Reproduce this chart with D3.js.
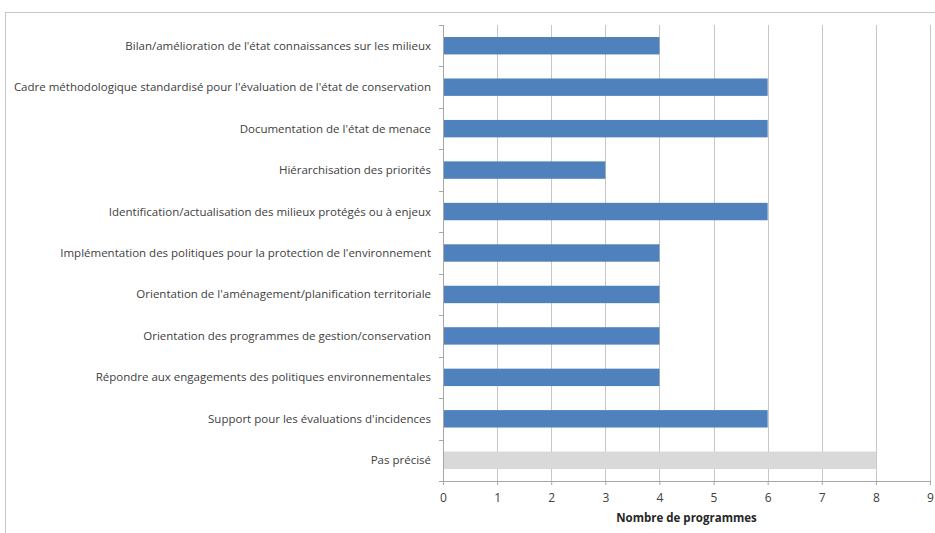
<!DOCTYPE html>
<html>
<head>
<meta charset="utf-8">
<script src="https://cdn.jsdelivr.net/npm/d3@7"></script>
<style>
  body { margin: 0; background: #fff; }
  text { font-family: "Open Sans", "Liberation Sans", sans-serif; }
</style>
</head>
<body>
<script>
(function (d3) {
  'use strict';

  const categories = [
    "Bilan/amélioration de l'état connaissances sur les milieux",
    "Cadre méthodologique standardisé pour l'évaluation de l'état de conservation",
    "Documentation de l'état de menace",
    "Hiérarchisation des priorités",
    "Identification/actualisation des milieux protégés ou à enjeux",
    "Implémentation des politiques pour la protection de l'environnement",
    "Orientation de l'aménagement/planification territoriale",
    "Orientation des programmes de gestion/conservation",
    "Répondre aux engagements des politiques environnementales",
    "Support pour les évaluations d'incidences",
    "Pas précisé"
  ];
  const values = [4, 6, 6, 3, 6, 4, 4, 4, 4, 6, 8];
  const xTicks = [0, 1, 2, 3, 4, 5, 6, 7, 8, 9];

  const W = 935, H = 533;
  const margin = {top: 25, right: 5, bottom: 52, left: 443};
  const w = W - margin.left - margin.right,
        h = H - margin.top - margin.bottom;

  const svg = d3.select("body").append("svg")
      .attr("width", W)
      .attr("height", H);

  // outer chart frame
  svg.append("rect")
    .attr("x", 5.5).attr("y", 12.5)
    .attr("width", 945).attr("height", 540)
    .attr("fill", "none").attr("stroke", "#c8c8c8");

  const g = svg.append("g")
    .attr("transform", `translate(${margin.left},${margin.top})`);

  const x = d3.scaleLinear().domain([0, 9]).range([0, 487]);
  const y = d3.scaleBand().domain(categories).range([0, h]).paddingInner(0.58).paddingOuter(0.29);

  // gridlines
  g.append("g").selectAll("line")
    .data(xTicks.slice(1))
    .join("line")
      .attr("x1", d => Math.round(x(d)) + 0.5)
      .attr("x2", d => Math.round(x(d)) + 0.5)
      .attr("y1", 0).attr("y2", h)
      .attr("stroke", "#c6c6c6");

  // bars
  g.append("g").selectAll("rect")
    .data(categories)
    .join("rect")
      .attr("x", x(0) + 1)
      .attr("y", d => y(d))
      .attr("width", (d, i) => x(values[i]) - 1)
      .attr("height", y.bandwidth())
      .attr("fill", (d, i) => i === categories.length - 1 ? "#d9d9d9" : "#4f81bd");

  // x axis
  const xAxis = g.append("g")
    .attr("transform", `translate(0,${h})`)
    .call(d3.axisBottom(x).tickValues(xTicks).tickFormat(d3.format("d")).tickSize(4).tickPadding(8));
  xAxis.select(".domain").attr("stroke", "#a6a6a6").attr("d", `M-4,0.5H${x(9)}`);
  xAxis.selectAll(".tick line").attr("stroke", "#a6a6a6");
  xAxis.selectAll(".tick text").attr("fill", "#404040").style("font-size", "12px");

  // y axis
  const step = y.step();
  const yAxis = g.append("g");
  yAxis.append("line")
    .attr("x1", 0.5).attr("x2", 0.5).attr("y1", 0).attr("y2", h + 4)
    .attr("stroke", "#a6a6a6");
  yAxis.selectAll(".ytick")
    .data(d3.range(categories.length + 1))
    .join("line")
      .attr("class", "ytick")
      .attr("x1", -4).attr("x2", 0)
      .attr("y1", i => Math.round(i * step) + 0.5)
      .attr("y2", i => Math.round(i * step) + 0.5)
      .attr("stroke", "#a6a6a6");
  yAxis.selectAll("text")
    .data(categories)
    .join("text")
      .attr("x", -12)
      .attr("y", d => y(d) + y.bandwidth() / 2)
      .attr("dy", "0.35em")
      .attr("text-anchor", "end")
      .attr("fill", "#404040")
      .style("font-size", "11.5px")
      .text(d => d);

  // axis title
  g.append("text")
    .attr("x", x(4.5))
    .attr("y", h + 41)
    .attr("text-anchor", "middle")
    .attr("fill", "#262626")
    .style("font-size", "11.5px")
    .style("font-weight", "bold")
    .text("Nombre de programmes");
}(d3));
</script>
</body>
</html>
